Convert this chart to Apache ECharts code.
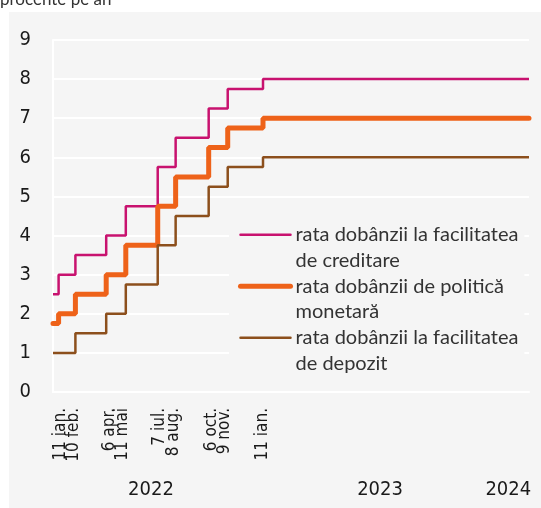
<!DOCTYPE html>
<html><head><meta charset="utf-8">
<script src="https://cdn.jsdelivr.net/npm/echarts@6/dist/echarts.min.js"></script>
<style>html,body{margin:0;padding:0;background:#fff}#c{width:541px;height:508px}</style>
</head><body><div id="c"></div>
<script>
// ---- data ----
const changeDates = ['2022-01-01','2022-01-11','2022-02-10','2022-04-06','2022-05-11','2022-07-07','2022-08-08','2022-10-06','2022-11-09','2023-01-11','2024-04-30'];
const lendingRate = [2.5, 3.0, 3.5, 4.0, 4.75, 5.75, 6.5, 7.25, 7.75, 8.0, 8.0];
const policyRate  = [1.75, 2.0, 2.5, 3.0, 3.75, 4.75, 5.5, 6.25, 6.75, 7.0, 7.0];
const depositRate = [1.0, 1.0, 1.5, 2.0, 2.75, 3.75, 4.5, 5.25, 5.75, 6.0, 6.0];
const seriesNames = ['rata dobânzii la facilitatea\nde creditare', 'rata dobânzii de politică\nmonetară', 'rata dobânzii la facilitatea\nde depozit'];
const dateLabelPairs = [['2022-01-11','2022-02-10'], ['2022-04-06','2022-05-11'], ['2022-07-07','2022-08-08'], ['2022-10-06','2022-11-09'], ['2023-01-11']];
const dateLabelTexts = ['11 ian.\n10 feb.', '6 apr.\n11 mai', '7 iul.\n8 aug.', '6 oct.\n9 nov.', '11 ian.'];
const yearLabelDates = ['2022-06-25', '2023-08-08', '2024-03-24'];
const yearLabels = ['2022', '2023', '2024'];
const axisMin = '2022-01-01', axisMax = '2024-04-30';
const yMin = 0, yMax = 9, yStep = 1;
const titleText = 'procente pe an';

// ---- helpers ----
function ts(s){ const p = s.split('-').map(Number); return Date.UTC(p[0], p[1]-1, p[2]); }
const dateLabelValues = dateLabelPairs.map(pr => pr.reduce((a,d)=>a+ts(d),0)/pr.length);
const yearLabelValues = yearLabelDates.map(ts);
function lookup(values, texts, v){ let bi=0,bd=Infinity; values.forEach((x,i)=>{const d=Math.abs(x-v); if(d<bd){bd=d;bi=i;}}); return texts[bi]; }
function pts(vals){ return changeDates.map((d,i)=>[ts(d), vals[i]]); }

const colors = ['#c8126f', '#ee6219', '#8c4f1c'];
const widths = [2.5, 5, 2.5];
const narrow = "'Liberation Sans Narrow', 'DejaVu Sans Condensed', 'Roboto Condensed', sans-serif";
const LH = 25.5;

const chart = echarts.init(document.getElementById('c'), null, {renderer:'canvas'});
chart.setOption({
  animation: false,
  backgroundColor: '#ffffff',
  graphic: [{type:'rect', left: 9, top: 12, shape:{width: 532, height: 496}, style:{fill:'#f5f5f5'}, z: -10, silent: true}],
  title: {text: titleText, left: 0, top: -9, padding: 0,
    textStyle: {fontSize: 17, fontWeight: 'normal', color: '#333', fontFamily: 'Lato'}},
  grid: {left: 53, right: 12, top: 40, bottom: 116, containLabel: false},
  xAxis: [{
    type: 'value', min: ts(axisMin), max: ts(axisMax), position: 'bottom',
    axisLine: {show: true, lineStyle: {color: '#ffffff', width: 2}},
    axisTick: {show: false}, splitLine: {show: false},
    axisLabel: {customValues: dateLabelValues, rotate: 90, margin: 16,
      formatter: v => lookup(dateLabelValues, dateLabelTexts, v),
      fontFamily: narrow, fontSize: 17, lineHeight: 13.5, color: '#1a1a1a', hideOverlap: false}
  }, {
    type: 'value', min: ts(axisMin), max: ts(axisMax), position: 'bottom',
    axisLine: {show: false}, axisTick: {show: false}, splitLine: {show: false},
    axisLabel: {customValues: yearLabelValues, margin: 88,
      formatter: v => lookup(yearLabelValues, yearLabels, v),
      fontFamily: narrow, fontSize: 20, color: '#1a1a1a'}
  }],
  yAxis: {
    type: 'value', min: yMin, max: yMax, interval: yStep,
    axisLine: {show: true, lineStyle: {color: '#ffffff', width: 2}},
    axisTick: {show: false},
    splitLine: {show: true, lineStyle: {color: '#ffffff', width: 2}},
    axisLabel: {margin: 22, fontFamily: narrow, fontSize: 20, color: '#1a1a1a'}
  },
  legend: {
    orient: 'vertical', left: 229, top: 216, itemWidth: 50, itemHeight: 14, itemGap: 51.5 - 3 * LH,
    padding: [6 - LH, 6, 6, 9], backgroundColor: '#f5f5f5',
    itemStyle: {opacity: 0},
    formatter: n => ' \n' + n,
    textStyle: {fontFamily: 'Lato', fontSize: 20, color: '#333', lineHeight: LH},
    data: seriesNames.map((n,i)=>({name: n, lineStyle: {width: widths[i], color: colors[i], cap: 'round'}}))
  },
  series: [lendingRate, policyRate, depositRate].map((vals, i) => ({
    name: seriesNames[i], type: 'line', step: 'end', symbol: 'none', xAxisIndex: 0,
    data: pts(vals), z: 2 + i,
    lineStyle: {color: colors[i], width: widths[i], cap: i === 1 ? 'round' : 'butt'},
    itemStyle: {color: colors[i]}
  }))
});
</script></body></html>
